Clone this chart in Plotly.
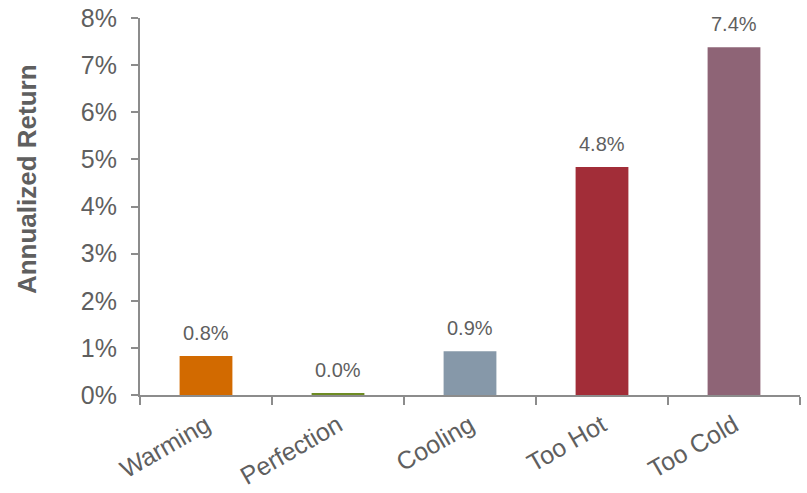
import plotly.graph_objects as go

# Annualized return by economic regime
regimes = ["Warming", "Perfection", "Cooling", "Too Hot", "Too Cold"]
returns_pct = [0.83, 0.04, 0.93, 4.84, 7.38]
bar_colors = ["#D26A00", "#6E8C23", "#8698A9", "#A22D38", "#8E6476"]
y_ticks = [0, 1, 2, 3, 4, 5, 6, 7, 8]
y_tick_labels = [f"{v}%" for v in y_ticks]

FONT = "Liberation Sans, Arial, sans-serif"
TEXT_GRAY = "#5F5F5F"
AXIS_GRAY = "#8C8C8C"

fig = go.Figure(
    go.Bar(
        x=regimes,
        y=returns_pct,
        marker=dict(color=bar_colors, line=dict(width=0)),
        width=0.4,
        hoverinfo="x+y",
    )
)

# value labels sit a little above each bar
value_labels = [
    dict(
        x=cat,
        y=val,
        xref="x",
        yref="y",
        text=f"{val:.1f}%",
        showarrow=False,
        yanchor="bottom",
        yshift=10,
        font=dict(family=FONT, size=20, color=TEXT_GRAY),
    )
    for cat, val in zip(regimes, returns_pct)
]

axis_title = dict(
    text="<b>Annualized Return</b>",
    textangle=-90,
    xref="paper",
    yref="paper",
    x=-0.171,
    y=0.573,
    xanchor="center",
    yanchor="middle",
    showarrow=False,
    font=dict(family=FONT, size=26, color=TEXT_GRAY),
)

fig.update_layout(
    width=807,
    height=493,
    margin=dict(l=140, r=7, t=18, b=98, autoexpand=False),
    paper_bgcolor="white",
    plot_bgcolor="white",
    showlegend=False,
    font=dict(family=FONT, color=TEXT_GRAY),
    annotations=value_labels + [axis_title],
)

fig.update_yaxes(
    range=[0, 8],
    tickvals=y_ticks,
    ticktext=y_tick_labels,
    tickfont=dict(family=FONT, size=25, color=TEXT_GRAY),
    showgrid=False,
    zeroline=False,
    showline=True,
    linecolor=AXIS_GRAY,
    linewidth=2,
    ticks="outside",
    ticklen=7,
    tickwidth=2,
    tickcolor=AXIS_GRAY,
    ticklabelstandoff=9,
    automargin=False,
)

fig.update_xaxes(
    tickfont=dict(family=FONT, size=25, color=TEXT_GRAY),
    tickangle=-30,
    showgrid=False,
    showline=True,
    linecolor=AXIS_GRAY,
    linewidth=2,
    ticks="outside",
    ticklen=8,
    tickwidth=2,
    tickcolor=AXIS_GRAY,
    tickson="boundaries",
    ticklabelstandoff=4,
    automargin=False,
)

fig.write_html("out.html")
